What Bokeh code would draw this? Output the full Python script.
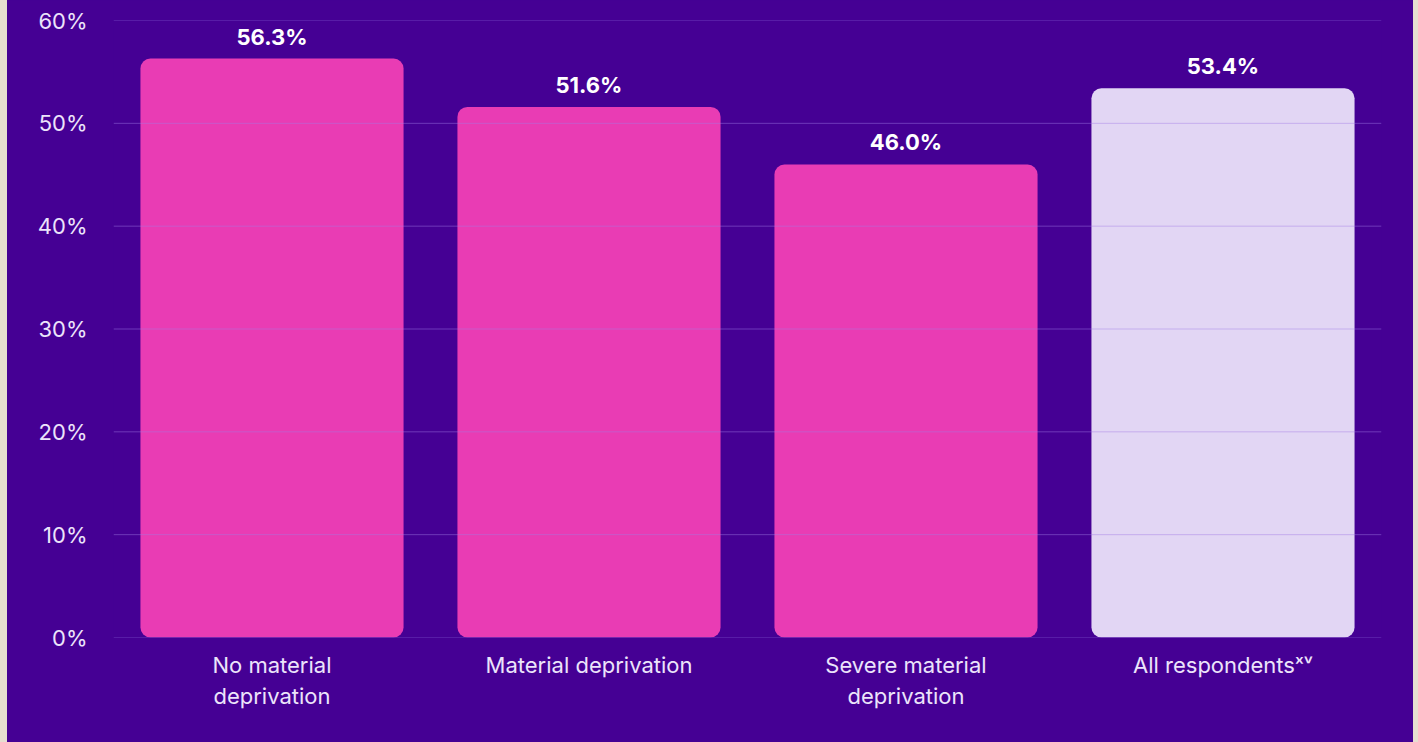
from bokeh.plotting import figure
from bokeh.models import ColumnDataSource, Range1d, LabelSet, FactorRange, Spacer, CustomJSTickFormatter, FixedTicker, Span
from bokeh.core.properties import value
from bokeh.layouts import row
from bokeh.embed import file_html
from bokeh.resources import INLINE

categories = ["No material\ndeprivation", "Material deprivation", "Severe material\ndeprivation", "All respondents\u02e3\u1d5b"]
values = [56.3, 51.6, 46.0, 53.4]
labels = ["56.3%", "51.6%", "46.0%", "53.4%"]
colors = ["#e93cb4", "#e93cb4", "#e93cb4", "#e2d6f4"]
y_ticks = [0, 10, 20, 30, 40, 50, 60]

BG = "#450094"
BEIGE = "#e6ded0"

src = ColumnDataSource(dict(cat=categories, val=values, lab=labels, col=colors))

p = figure(x_range=FactorRange(*categories), y_range=Range1d(0, 60),
           width=1406, height=742, output_backend="svg", toolbar_location=None,
           min_border_left=106, min_border_right=32, min_border_top=20, min_border_bottom=105,
           styles={"background-color": BG})
p.background_fill_color = BG
p.border_fill_color = BG
p.outline_line_color = None

p.vbar(x="cat", top="val", width=0.83, source=src, fill_color="col", line_color=None,
       border_radius=10)

# grid lines as span annotations (faintly visible over the bars)
for t in y_ticks:
    p.add_layout(Span(location=t, dimension="width", line_color="#a27ce6",
                      line_alpha=0.45, line_width=1))

p.add_layout(LabelSet(x="cat", y="val", text="lab", source=src, y_offset=9,
                      text_align="center", text_baseline="bottom",
                      text_color="white", text_font=value("Inter"), text_font_style="bold",
                      text_font_size="22px"))

p.xgrid.grid_line_color = None
p.ygrid.grid_line_color = None
p.yaxis.ticker = FixedTicker(ticks=y_ticks)
p.yaxis.formatter = CustomJSTickFormatter(code="return tick + '%';")

for ax in (p.xaxis[0], p.yaxis[0]):
    ax.axis_line_color = None
    ax.major_tick_line_color = None
    ax.minor_tick_line_color = None
    ax.major_label_text_color = "#ece4fb"
    ax.major_label_text_font = "Inter"
    ax.major_label_text_font_size = "22px"

p.yaxis.major_label_standoff = 20
p.xaxis.major_label_standoff = 8

layout = row(Spacer(width=7, height=742, styles={"background-color": BEIGE}),
             p,
             Spacer(width=5, height=742, styles={"background-color": BEIGE}),
             styles={"background-color": BG})

open("out.html", "w").write(file_html(layout, INLINE))
